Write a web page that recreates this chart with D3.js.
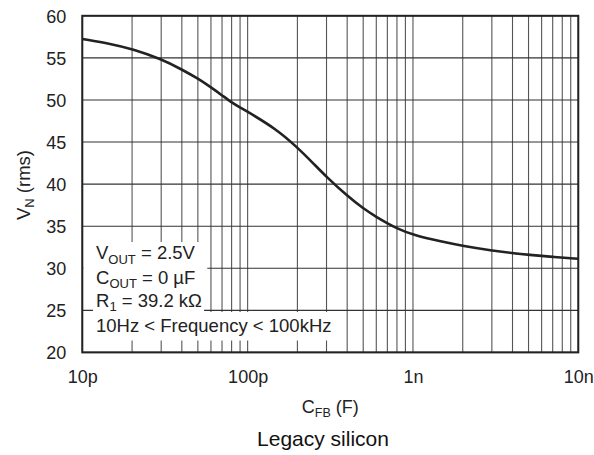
<!DOCTYPE html>
<html>
<head>
<meta charset="utf-8">
<script src="https://cdn.jsdelivr.net/npm/d3@7"></script>
<style>
  html, body { margin: 0; padding: 0; background: #fff; }
  svg { display: block; font-family: "Liberation Sans", Arial, sans-serif; }
</style>
</head>
<body>
<svg id="chart" width="594" height="455"></svg>
<script>
// ---- data ----
const capPF = [10, 15, 20, 30, 40, 50, 60, 70, 80, 90, 100, 150, 200, 250, 300, 400, 500, 600, 700, 800, 1000, 1500, 2000, 3000, 4000, 5000, 7000, 10000];
const noiseRms = [57.25, 56.65, 56.06, 54.87, 53.62, 52.55, 51.5, 50.55, 49.7, 49.1, 48.6, 46.5, 44.35, 42.45, 40.85, 38.6, 37.1, 36.1, 35.35, 34.75, 33.95, 33.15, 32.65, 32.1, 31.8, 31.6, 31.35, 31.13];
const xTickValues = [1e-11, 1e-10, 1e-9, 1e-8];
const xTickLabels = ["10p", "100p", "1n", "10n"];
const yTickValues = [20, 25, 30, 35, 40, 45, 50, 55, 60];
const legendLines = [
  [["V", false], ["OUT", true], [" = 2.5V", false]],
  [["C", false], ["OUT", true], [" = 0 \u00B5F", false]],
  [["R", false], ["1", true], [" = 39.2 k\u03A9", false]],
  [["10Hz < Frequency < 100kHz", false]]
];

// ---- chart ----
const svg = d3.select("#chart");
const L = 82.3, R = 578.3, T = 15.8, B = 352.4;
const x = d3.scaleLog().domain([1e-11, 1e-8]).range([L, R]);
const y = d3.scaleLinear().domain([20, 60]).range([B, T]);
const ink = "#222";

// gridlines
const minorX = [];
for (let d = 1e-11; d < 1e-8 * 1.01; d *= 10) {
  for (let m = 1; m <= 9; m++) {
    const v = d * m;
    if (v <= 1e-8 * 1.0001) minorX.push(v);
  }
}
svg.append("g").selectAll("line").data(minorX).join("line")
  .attr("x1", d => x(d)).attr("x2", d => x(d))
  .attr("y1", T).attr("y2", B)
  .attr("stroke", "#555").attr("stroke-width", 1.1);
svg.append("g").selectAll("line").data(yTickValues).join("line")
  .attr("x1", L).attr("x2", R)
  .attr("y1", d => y(d)).attr("y2", d => y(d))
  .attr("stroke", "#333").attr("stroke-width", 1.1);

// legend background boxes
const lg = svg.append("g");
lg.append("rect").attr("x", L + 1).attr("y", 242).attr("width", 124).attr("height", 48).attr("fill", "#fff");
lg.append("rect").attr("x", 93).attr("y", 290).attr("width", 111).attr("height", 22).attr("fill", "#fff");
lg.append("rect").attr("x", L + 1).attr("y", 312).attr("width", 254).attr("height", 28.5).attr("fill", "#fff");

// curve
const pts = capPF.map((c, i) => [c * 1e-12, noiseRms[i]]);
svg.append("path")
  .datum(pts)
  .attr("fill", "none")
  .attr("stroke", ink)
  .attr("stroke-width", 2.6)
  .attr("d", d3.line().x(d => x(d[0])).y(d => y(d[1])).curve(d3.curveBasis));

// frame
svg.append("rect").attr("x", L).attr("y", T).attr("width", R - L).attr("height", B - T)
  .attr("fill", "none").attr("stroke", ink).attr("stroke-width", 2);

// axes (labels only)
const xAxis = d3.axisBottom(x).tickValues(xTickValues)
  .tickFormat((d, i) => xTickLabels[i]).tickSize(0).tickPadding(0);
const gx = svg.append("g").attr("transform", `translate(0,${B})`).call(xAxis);
gx.select(".domain").remove();
gx.selectAll("text").attr("dy", null).attr("y", 31).attr("font-size", 18)
  .attr("fill", ink).attr("font-family", "Liberation Sans, Arial, sans-serif");

const yAxis = d3.axisLeft(y).tickValues(yTickValues).tickSize(0).tickPadding(0);
const gy = svg.append("g").attr("transform", `translate(${L},0)`).call(yAxis);
gy.select(".domain").remove();
gy.selectAll("text").attr("x", -16).attr("dy", "0.35em").attr("font-size", 18)
  .attr("fill", ink).attr("font-family", "Liberation Sans, Arial, sans-serif");

// legend text
const baselines = [259, 283.5, 306.5, 332];
legendLines.forEach((parts, i) => {
  const t = svg.append("text").attr("x", 96).attr("y", baselines[i])
    .attr("font-size", 18.5).attr("fill", ink);
  let prevSub = false;
  parts.forEach(([s, sub]) => {
    const ts = t.append("tspan").text(s);
    if (sub) { ts.attr("font-size", 13).attr("dy", 4.5); }
    else { ts.attr("dy", prevSub ? -4.5 : 0); }
    prevSub = sub;
  });
});

// axis titles
const xt = svg.append("text").attr("x", (L + R) / 2).attr("y", 413)
  .attr("text-anchor", "middle").attr("font-size", 18).attr("fill", ink);
xt.append("tspan").text("C");
xt.append("tspan").text("FB").attr("font-size", 12.5).attr("dy", 4);
xt.append("tspan").text(" (F)").attr("dy", -4);

const yt = svg.append("text").attr("transform", "translate(30,185) rotate(-90)")
  .attr("text-anchor", "middle").attr("font-size", 18.5).attr("fill", ink);
yt.append("tspan").text("V");
yt.append("tspan").text("N").attr("font-size", 13).attr("dy", 4);
yt.append("tspan").text(" (rms)").attr("dy", -4);

svg.append("text").attr("x", 323).attr("y", 446).attr("text-anchor", "middle")
  .attr("font-size", 21).attr("fill", "#111").text("Legacy silicon");
</script>
</body>
</html>
